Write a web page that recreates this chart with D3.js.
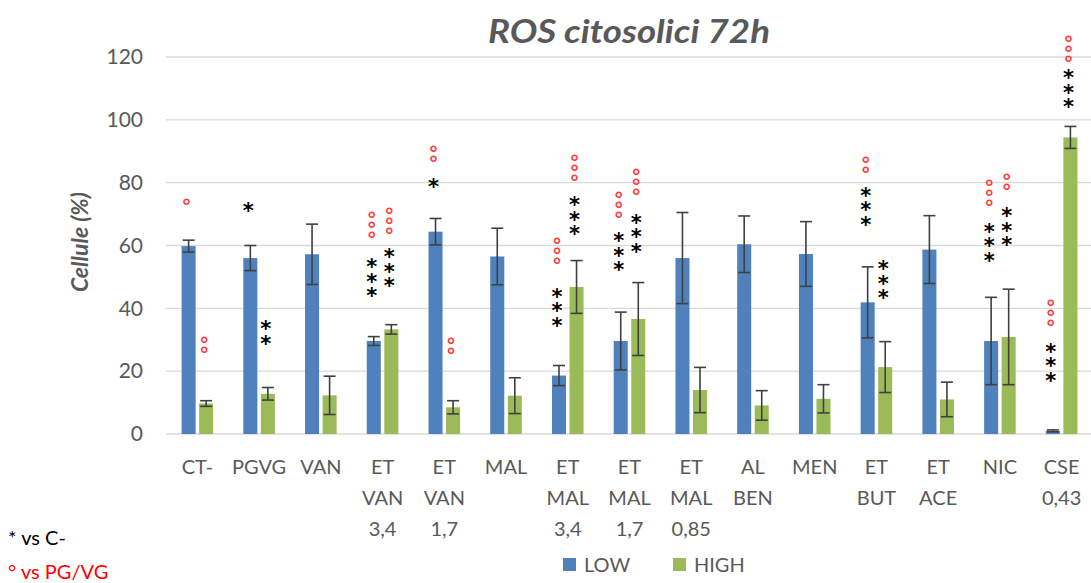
<!DOCTYPE html>
<html>
<head>
<meta charset="utf-8">
<script src="https://cdn.jsdelivr.net/npm/d3@7"></script>
<style>
  html, body { margin: 0; padding: 0; background: #fff; }
  svg { display: block; }
  text { font-family: Lato, "Open Sans", sans-serif; }
  .stack { writing-mode: vertical-rl; text-orientation: upright; }
</style>
</head>
<body>
<div id="chart"></div>
<script>
// Cytosolic ROS at 72h: share of positive cells for each treatment, LOW vs HIGH dose
const categories = [
  ["CT-"], ["PGVG"], ["VAN"], ["ET", "VAN", "3,4"], ["ET", "VAN", "1,7"], ["MAL"],
  ["ET", "MAL", "3,4"], ["ET", "MAL", "1,7"], ["ET", "MAL", "0,85"], ["AL", "BEN"],
  ["MEN"], ["ET", "BUT"], ["ET", "ACE"], ["NIC"], ["CSE", "0,43"]
];
const seriesNames = ["LOW", "HIGH"];
const lowValues  = [59.8, 56.0, 57.2, 29.6, 64.4, 56.5, 18.6, 29.6, 56.0, 60.4, 57.3, 41.9, 58.7, 29.6, 1.0];
const lowErrors  = [1.9, 4.0, 9.6, 1.4, 4.2, 9.0, 3.2, 9.2, 14.5, 9.0, 10.3, 11.3, 10.8, 13.9, 0.3];
const highValues = [9.7, 12.8, 12.3, 33.3, 8.5, 12.2, 46.8, 36.6, 14.0, 9.1, 11.2, 21.3, 11.0, 30.9, 94.4];
const highErrors = [0.9, 2.0, 6.1, 1.5, 2.1, 5.7, 8.4, 11.6, 7.2, 4.7, 4.5, 8.1, 5.5, 15.2, 3.5];
const yTicks = [0, 20, 40, 60, 80, 100, 120];

// Significance marks: category index, series, symbol, how many, value level of the top mark
const marks = [
  [0, "LOW", "°", 1, 74.4],
  [0, "HIGH", "°", 2, 30.5],
  [1, "LOW", "*", 1, 72.5],
  [1, "HIGH", "*", 2, 34.9],
  [3, "LOW", "°", 3, 70.2],
  [3, "LOW", "*", 3, 54.7],
  [3, "HIGH", "°", 3, 71.5],
  [3, "HIGH", "*", 3, 57.8],
  [4, "LOW", "°", 2, 91.1],
  [4, "LOW", "*", 1, 80.3],
  [4, "HIGH", "°", 2, 29.9],
  [6, "LOW", "°", 3, 62.0],
  [6, "LOW", "*", 3, 45.3],
  [6, "HIGH", "°", 3, 88.3],
  [6, "HIGH", "*", 3, 74.5],
  [7, "LOW", "°", 3, 76.6],
  [7, "LOW", "*", 3, 62.9],
  [7, "HIGH", "°", 3, 83.7],
  [7, "HIGH", "*", 3, 68.8],
  [11, "LOW", "°", 2, 87.8],
  [11, "LOW", "*", 3, 77.4],
  [11, "HIGH", "*", 3, 54.0],
  [13, "LOW", "°", 3, 80.3],
  [13, "LOW", "*", 3, 66.0],
  [13, "HIGH", "°", 2, 82.1],
  [13, "HIGH", "*", 3, 71.0],
  [14, "LOW", "°", 3, 42.1],
  [14, "LOW", "*", 3, 27.8],
  [14, "HIGH", "°", 3, 126.3],
  [14, "HIGH", "*", 3, 114.8]
];

const W = 1091, H = 583;
const colors = { LOW: "#4F81BD", HIGH: "#9BBB59" };
const textGray = "#595959";

const svg = d3.select("#chart").append("svg")
  .attr("width", W).attr("height", H);

const x = d3.scaleBand()
  .domain(d3.range(categories.length))
  .range([166.5, 1092.5]);

const xs = d3.scaleBand()
  .domain(seriesNames)
  .range([0, x.bandwidth()])
  .paddingInner(0.2)
  .paddingOuter(0.86);

const y = d3.scaleLinear().domain([0, 120]).range([434, 57]);

// gridlines
svg.append("g")
  .selectAll("line")
  .data(yTicks)
  .join("line")
  .attr("x1", 166).attr("x2", W)
  .attr("y1", d => y(d)).attr("y2", d => y(d))
  .attr("stroke", "#D9D9D9").attr("stroke-width", 1.4);

// y axis labels
const yAxis = svg.append("g")
  .attr("transform", "translate(143,0)")
  .call(d3.axisLeft(y).tickValues(yTicks).tickSize(0).tickPadding(0));
yAxis.select(".domain").remove();
yAxis.selectAll("text")
  .attr("fill", textGray)
  .style("font-size", "21px")
  .style("font-family", "Lato, 'Open Sans', sans-serif");

// bars
const rows = categories.map((c, i) => ({
  i,
  values: [
    { s: "LOW", v: lowValues[i], e: lowErrors[i] },
    { s: "HIGH", v: highValues[i], e: highErrors[i] }
  ]
}));

const groups = svg.append("g")
  .selectAll("g")
  .data(rows)
  .join("g")
  .attr("transform", d => `translate(${x(d.i)},0)`);

groups.selectAll("rect")
  .data(d => d.values)
  .join("rect")
  .attr("x", d => xs(d.s))
  .attr("width", xs.bandwidth())
  .attr("y", d => y(d.v))
  .attr("height", d => y(0) - y(d.v))
  .attr("fill", d => colors[d.s]);

// error bars
const cap = 6;
const eb = groups.selectAll("g.err")
  .data(d => d.values)
  .join("g")
  .attr("class", "err")
  .attr("stroke", "#404040")
  .attr("stroke-width", 1.6);
eb.append("line")
  .attr("x1", d => xs(d.s) + xs.bandwidth() / 2)
  .attr("x2", d => xs(d.s) + xs.bandwidth() / 2)
  .attr("y1", d => y(d.v + d.e))
  .attr("y2", d => y(Math.max(0, d.v - d.e)));
eb.append("line")
  .attr("x1", d => xs(d.s) + xs.bandwidth() / 2 - cap)
  .attr("x2", d => xs(d.s) + xs.bandwidth() / 2 + cap)
  .attr("y1", d => y(d.v + d.e)).attr("y2", d => y(d.v + d.e));
eb.append("line")
  .attr("x1", d => xs(d.s) + xs.bandwidth() / 2 - cap)
  .attr("x2", d => xs(d.s) + xs.bandwidth() / 2 + cap)
  .attr("y1", d => y(Math.max(0, d.v - d.e))).attr("y2", d => y(Math.max(0, d.v - d.e)));

// category labels (multi-line)
const lineGap = 31;
svg.append("g")
  .selectAll("text")
  .data(categories.map((lines, i) => ({ lines, i })))
  .join("text")
  .attr("text-anchor", "middle")
  .attr("fill", textGray)
  .style("font-size", "20px")
  .attr("transform", d => `translate(${x(d.i) + x.bandwidth() / 2},474)`)
  .selectAll("tspan")
  .data(d => d.lines)
  .join("tspan")
  .attr("x", 0)
  .attr("y", (d, k) => k * lineGap)
  .text(d => d);

// significance marks: each entry is one vertical column of symbols
const markStyle = {
  "*": { step: 14.5, fill: "#000", size: 21 },
  "°": { step: 10, fill: "#FF3B3B", size: 20 }
};
const stacks = svg.append("g")
  .selectAll("text")
  .data(marks.map(([ci, s, sym, n, top]) => ({ ci, s, sym, n, top })))
  .join("text")
  .attr("class", "stack")
  .attr("fill", d => markStyle[d.sym].fill)
  .style("font-family", "'DejaVu Sans', sans-serif")
  .style("font-weight", "bold")
  .style("font-size", d => markStyle[d.sym].size + "px")
  .attr("x", d => x(d.ci) + xs(d.s) + xs.bandwidth() / 2 - 2)
  .attr("y", d => y(d.top))
  .text(d => d.sym.repeat(d.n));

// tighten each column so consecutive symbols sit one step apart, and align
// the first symbol's ink centre with its level
stacks.each(function (d) {
  const el = this;
  const st = markStyle[d.sym];
  const n = d.n;
  let adv = st.size * 1.164;
  if (n > 1 && el.getNumberOfChars() > 1) {
    const p0 = el.getStartPositionOfChar(0), p1 = el.getStartPositionOfChar(1);
    adv = Math.abs(p1.y - p0.y) || adv;
  }
  d3.select(el).style("letter-spacing", (st.step - adv) + "px");
  const bb = el.getBBox();
  const firstCenter = bb.y + st.size * 0.33;
  d3.select(el).attr("y", y(d.top) - (firstCenter - y(d.top)));
});

// title
svg.append("text")
  .attr("x", 629).attr("y", 43)
  .attr("text-anchor", "middle")
  .attr("fill", textGray)
  .attr("textLength", 282)
  .attr("lengthAdjust", "spacingAndGlyphs")
  .style("font-size", "32px")
  .style("font-weight", "bold")
  .style("font-style", "italic")
  .text("ROS citosolici 72h");

// y axis title
svg.append("text")
  .attr("transform", "translate(88,242) rotate(-90)")
  .attr("text-anchor", "middle")
  .attr("fill", textGray)
  .style("font-size", "23px")
  .style("font-weight", "bold")
  .style("font-style", "italic")
  .text("Cellule (%)");

// legend
const legend = svg.append("g").selectAll("g")
  .data(seriesNames)
  .join("g")
  .attr("transform", (d, i) => `translate(${[563, 673][i]},558)`);
legend.append("rect")
  .attr("width", 13).attr("height", 13)
  .attr("fill", d => colors[d]);
legend.append("text")
  .attr("x", 21).attr("y", 14)
  .attr("fill", textGray)
  .style("font-size", "20px")
  .text(d => d);

// footnotes for the significance marks
svg.append("text")
  .attr("x", 8).attr("y", 545)
  .attr("fill", "#000")
  .style("font-size", "20px")
  .text("* vs C-");
svg.append("text")
  .attr("x", 8).attr("y", 579)
  .attr("fill", "#FF0000")
  .style("font-size", "20px")
  .text("° vs PG/VG");
</script>
</body>
</html>
